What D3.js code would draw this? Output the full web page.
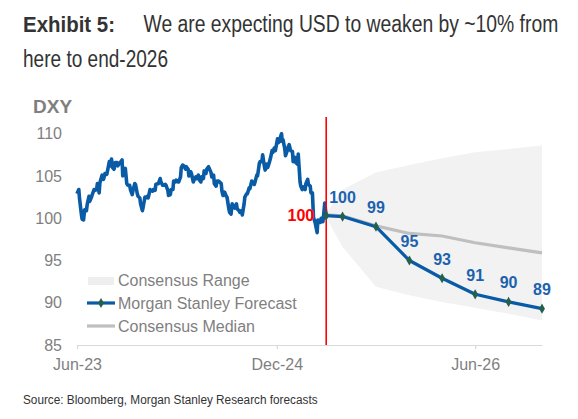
<!DOCTYPE html>
<html><head><meta charset="utf-8">
<script src="https://cdn.jsdelivr.net/npm/d3@7"></script>
<style>html,body{margin:0;padding:0;background:#fff;}svg{display:block;}text{font-family:"Liberation Sans",Arial,sans-serif;}</style>
</head><body><div id="chart"></div>
<script>
// ---- DATA ----
const histDates = ["2023-06-30","2023-07-05","2023-07-07","2023-07-12","2023-07-14","2023-07-18","2023-07-21","2023-07-26","2023-07-28","2023-08-02","2023-08-04","2023-08-09","2023-08-11","2023-08-16","2023-08-18","2023-08-23","2023-08-25","2023-08-30","2023-09-01","2023-09-07","2023-09-11","2023-09-15","2023-09-20","2023-09-22","2023-09-27","2023-09-29","2023-10-03","2023-10-06","2023-10-10","2023-10-13","2023-10-18","2023-10-20","2023-10-25","2023-10-27","2023-11-01","2023-11-03","2023-11-08","2023-11-10","2023-11-14","2023-11-17","2023-11-22","2023-11-24","2023-11-29","2023-12-01","2023-12-06","2023-12-08","2023-12-13","2023-12-15","2023-12-20","2023-12-22","2023-12-27","2023-12-29",
"2024-01-03","2024-01-05","2024-01-10","2024-01-12","2024-01-17","2024-01-19","2024-01-24","2024-01-26","2024-01-31","2024-02-02","2024-02-07","2024-02-09","2024-02-14","2024-02-16","2024-02-21","2024-02-23","2024-02-28","2024-03-01","2024-03-06","2024-03-08","2024-03-13","2024-03-15","2024-03-20","2024-03-22","2024-03-27","2024-03-29","2024-04-03","2024-04-05","2024-04-10","2024-04-12","2024-04-16","2024-04-19","2024-04-24","2024-04-26","2024-05-01","2024-05-03","2024-05-08","2024-05-10","2024-05-15","2024-05-17","2024-05-22","2024-05-24","2024-05-29","2024-05-31","2024-06-05","2024-06-07","2024-06-12","2024-06-14","2024-06-19","2024-06-21","2024-06-26","2024-06-28","2024-07-03","2024-07-05","2024-07-10","2024-07-12","2024-07-17","2024-07-19","2024-07-24","2024-07-26","2024-07-31","2024-08-02","2024-08-05","2024-08-09","2024-08-14","2024-08-16","2024-08-21","2024-08-23","2024-08-27","2024-08-30","2024-09-04","2024-09-06","2024-09-11","2024-09-13","2024-09-18","2024-09-20","2024-09-25","2024-09-27","2024-10-02","2024-10-04","2024-10-09","2024-10-11","2024-10-16","2024-10-18","2024-10-23","2024-10-25","2024-10-30","2024-11-01","2024-11-06","2024-11-08","2024-11-13","2024-11-15","2024-11-20","2024-11-22","2024-11-27","2024-11-29","2024-12-04","2024-12-06","2024-12-11","2024-12-13","2024-12-18","2024-12-20","2024-12-24","2024-12-27",
"2025-01-02","2025-01-03","2025-01-08","2025-01-10","2025-01-13","2025-01-15","2025-01-17","2025-01-22","2025-01-24","2025-01-28","2025-01-31","2025-02-03","2025-02-07","2025-02-12","2025-02-14","2025-02-19","2025-02-21","2025-02-26","2025-02-28","2025-03-05","2025-03-07","2025-03-11","2025-03-14","2025-03-19","2025-03-21","2025-03-26","2025-03-28","2025-04-02","2025-04-04","2025-04-08","2025-04-11","2025-04-16","2025-04-21","2025-04-23","2025-04-25","2025-04-30","2025-05-02","2025-05-07","2025-05-09","2025-05-12","2025-05-16"];
const histValues = [102.9,103.4,102.3,100.5,99.9,99.8,101.0,100.9,101.6,102.6,102.0,102.5,102.8,103.4,103.3,103.4,104.1,103.0,104.2,105.1,104.6,105.3,105.2,105.6,106.7,106.2,107.0,106.0,105.8,106.6,106.6,106.2,106.5,106.6,106.9,105.0,105.6,105.9,104.1,103.9,103.9,103.4,102.8,103.3,104.1,104.0,102.9,102.6,102.4,101.7,100.9,101.3,
102.5,102.4,102.6,102.4,103.4,103.3,103.2,103.4,103.3,104.0,104.1,104.1,104.7,104.3,103.9,103.9,104.0,103.9,103.3,102.7,102.8,103.4,103.4,104.4,104.3,104.5,104.3,104.3,104.9,106.0,106.3,106.2,105.8,106.1,105.8,105.0,105.5,105.3,104.3,104.5,104.9,104.7,105.1,104.6,104.3,104.9,104.7,105.6,105.3,105.8,106.1,105.9,105.4,104.9,105.1,104.1,103.8,104.4,104.4,104.3,104.1,103.2,102.7,103.1,102.6,102.5,101.1,100.7,100.5,101.7,101.4,101.2,101.7,101.1,100.9,100.7,100.9,100.4,101.7,102.5,102.9,102.9,103.6,103.5,104.4,104.3,104.0,104.3,105.1,105.0,106.5,106.7,106.7,107.5,106.1,105.7,106.4,106.0,106.7,107.0,108.0,107.8,108.3,108.0,
109.4,108.9,109.1,109.6,110.0,109.1,109.3,108.2,107.4,107.9,108.4,108.7,108.0,107.9,106.7,107.2,106.6,106.4,107.6,104.3,103.8,103.4,103.7,103.4,104.1,104.6,104.0,103.8,103.0,103.0,100.1,99.4,98.3,99.8,99.5,99.5,100.0,99.6,100.4,101.8,100.3];

const fcDates = ["2025-05-16","2025-06-30","2025-09-30","2025-12-31","2026-03-31","2026-06-30","2026-09-30","2026-12-31"];
const msForecast = [100.3,100.2,99.0,95.0,92.9,91.0,90.1,89.3];
const msLabels = ["","100","99","95","93","91","90","89"];
const consensusMedian = [100.4,100.3,99.1,98.2,97.9,97.1,96.5,95.9];
const consensusHigh = [100.5,103.4,105.4,106.3,107.1,107.8,108.2,108.6];
const consensusLow = [100.1,96.6,91.9,90.9,90.1,89.4,88.7,87.9];

const yTicks = [85,90,95,100,105,110];
const xTickDates = ["2023-06-30","2024-12-31","2026-06-30"];
const legendLabels = ["Consensus Range","Morgan Stanley Forecast","Consensus Median"];
const spotLabel = "100";

// ---- CHART ----
const W = 578, H = 419;
const parse = d3.timeParse("%Y-%m-%d");
const svg = d3.select("#chart").append("svg").attr("width", W).attr("height", H);
svg.append("rect").attr("width", W).attr("height", H).attr("fill", "#fff");

const x = d3.scaleTime().domain([parse("2023-06-30"), parse("2026-12-31")]).range([77, 542]);
const y = d3.scaleLinear().domain([85, 110]).range([345, 133.75]);

const blue = "#0A5BA5", labelBlue = "#1D62AE", grey = "#7F7F7F";

// Title: text drawn at natural size, then squeezed horizontally to the reference width
function fitText(tx, ty, target, str, size, weight, color, family) {
  const g = svg.append("g");
  const t = g.append("text").attr("x", 0).attr("y", 0).attr("font-size", size)
    .attr("font-weight", weight || "normal").attr("fill", color).text(str);
  if (family) t.attr("font-family", family);
  const natural = t.node().getComputedTextLength() || target;
  g.attr("transform", `translate(${tx},${ty}) scale(${target / natural},1)`);
  return g;
}
fitText(23, 32, 92, "Exhibit 5:", 23, "bold", "#333");
fitText(143.5, 32, 415, "We are expecting USD to weaken by ~10% from", 23, "normal", "#333");
fitText(23, 67, 145, "here to end-2026", 23, "normal", "#333");

// DXY label
svg.append("text").attr("x", 33).attr("y", 113).attr("font-size", 19).attr("font-weight", "bold").attr("fill", grey).text("DXY");

// Y axis
const yAxis = svg.append("g").attr("transform", "translate(62,0)")
  .call(d3.axisLeft(y).tickValues(yTicks).tickSize(0).tickPadding(0));
yAxis.select(".domain").remove();
yAxis.selectAll("text").attr("font-size", 16).attr("fill", grey).attr("font-family", "Liberation Sans, Arial, sans-serif");

// X axis
const xAxis = svg.append("g").attr("transform", "translate(0,345)")
  .call(d3.axisBottom(x).tickValues(xTickDates.map(parse)).tickFormat(d3.timeFormat("%b-%y")).tickSize(4).tickSizeOuter(0).tickPadding(10));
xAxis.select(".domain").attr("stroke", "#D9D9D9").attr("stroke-width", 1.2);
xAxis.selectAll(".tick line").attr("stroke", "#D9D9D9").attr("stroke-width", 1.2);
xAxis.selectAll("text").attr("font-size", 16).attr("fill", grey).attr("font-family", "Liberation Sans, Arial, sans-serif");

// Consensus band
const fc = fcDates.map((d, i) => ({date: parse(d), ms: msForecast[i], med: consensusMedian[i], hi: consensusHigh[i], lo: consensusLow[i], label: msLabels[i]}));
svg.append("path").datum(fc)
  .attr("d", d3.area().x(d => x(d.date)).y0(d => y(d.lo)).y1(d => y(d.hi)))
  .attr("fill", "#F2F2F2");

// Consensus median
svg.append("path").datum(fc)
  .attr("d", d3.line().x(d => x(d.date)).y(d => y(d.med)))
  .attr("fill", "none").attr("stroke", "#BFBFBF").attr("stroke-width", 3.2);

// Historical
const hist = histDates.map((d, i) => ({date: parse(d), v: histValues[i]}));
svg.append("path").datum(hist)
  .attr("d", d3.line().x(d => x(d.date)).y(d => y(d.v)))
  .attr("fill", "none").attr("stroke", blue).attr("stroke-width", 3.6).attr("stroke-linejoin", "round");

// Red vertical line at spot
const spotX = x(parse(fcDates[0]));
svg.append("line").attr("x1", spotX).attr("x2", spotX).attr("y1", 117).attr("y2", 345)
  .attr("stroke", "#FF0000").attr("stroke-width", 1.6);
svg.append("text").attr("x", spotX - 12).attr("y", 221).attr("text-anchor", "end")
  .attr("font-size", 16).attr("font-weight", "bold").attr("fill", "#FF0000").text(spotLabel);

// MS forecast
svg.append("path").datum(fc)
  .attr("d", d3.line().x(d => x(d.date)).y(d => y(d.ms)))
  .attr("fill", "none").attr("stroke", blue).attr("stroke-width", 3.2).attr("stroke-linejoin", "round");
svg.selectAll(".mk").data(fc).enter().append("path")
  .attr("transform", d => `translate(${x(d.date)},${y(d.ms)})`)
  .attr("d", d3.symbol().type(d3.symbolDiamond).size(30))
  .attr("fill", "#24604C");
svg.selectAll(".lbl").data(fc.filter(d => d.label)).enter().append("text")
  .attr("x", d => x(d.date)).attr("y", d => y(d.ms) - 13.5).attr("text-anchor", "middle")
  .attr("font-size", 16).attr("font-weight", "bold").attr("fill", labelBlue).text(d => d.label);

// Legend
const lg = svg.append("g");
lg.append("rect").attr("x", 88).attr("y", 277).attr("width", 26).attr("height", 8).attr("fill", "#EEEEEE");
lg.append("line").attr("x1", 87).attr("x2", 115).attr("y1", 303).attr("y2", 303).attr("stroke", blue).attr("stroke-width", 3.2);
lg.append("path").attr("transform", "translate(101,303)").attr("d", d3.symbol().type(d3.symbolDiamond).size(30)).attr("fill", "#24604C");
lg.append("line").attr("x1", 87).attr("x2", 115).attr("y1", 326).attr("y2", 326).attr("stroke", "#BFBFBF").attr("stroke-width", 3.2);
lg.selectAll(".lt").data(legendLabels).enter().append("text")
  .attr("x", 118).attr("y", (d, i) => 286 + i * 22.8).attr("font-size", 16).attr("fill", grey).text(d => d);

// Source
fitText(23, 404, 295, "Source: Bloomberg, Morgan Stanley Research forecasts", 13.5, "normal", "#333",
  "Liberation Sans Narrow, Arial Narrow, Liberation Sans, sans-serif");
</script></body></html>
